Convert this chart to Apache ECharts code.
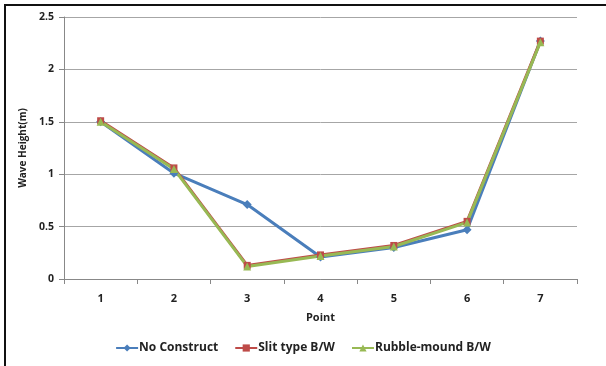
<!DOCTYPE html>
<html><head><meta charset="utf-8">
<script src="https://cdn.jsdelivr.net/npm/echarts@6/dist/echarts.min.js"></script>
<style>html,body{margin:0;padding:0;background:#fff}#c{width:606px;height:366px}</style>
</head><body><div id="c"></div>
<script>
const categories = ['1','2','3','4','5','6','7'];
const noConstruct = [1.50, 1.01, 0.71, 0.21, 0.30, 0.47, 2.27];
const slitType = [1.51, 1.06, 0.13, 0.23, 0.32, 0.55, 2.27];
const rubbleMound = [1.50, 1.05, 0.12, 0.22, 0.31, 0.54, 2.26];
const yTicks = [0, 0.5, 1, 1.5, 2, 2.5];

const font = 'Open Sans, Liberation Sans, sans-serif';
const chart = echarts.init(document.getElementById('c'));
chart.setOption({
  animation: false,
  backgroundColor: '#fff',
  graphic: [
    {type:'line', shape:{x1:4,y1:5,x2:606,y2:5}, style:{stroke:'#111', lineWidth:2}, silent:true},
    {type:'line', shape:{x1:5,y1:4,x2:5,y2:366}, style:{stroke:'#111', lineWidth:2}, silent:true}
  ],
  grid: {left: 64, right: 29, top: 17, bottom: 87, containLabel: false},
  legend: {
    bottom: 7, left: 'center', itemGap: 16, itemWidth: 22, itemHeight: 9,
    textStyle: {fontFamily: font, fontWeight: 'bold', fontSize: 12, color: '#222', padding: [0,0,0,-4]},
    data: ['No Construct', 'Slit type B/W', 'Rubble-mound B/W']
  },
  xAxis: {
    type: 'category', data: categories, boundaryGap: true,
    name: 'Point', nameLocation: 'middle', nameGap: 33,
    nameTextStyle: {fontFamily: font, fontWeight: 'bold', fontSize: 11, color: '#222'},
    axisLine: {lineStyle: {color: '#888'}},
    axisTick: {show: true, length: 5, lineStyle: {color: '#888'}},
    axisLabel: {fontFamily: font, fontWeight: 'bold', fontSize: 11, color: '#222', margin: 14}
  },
  yAxis: {
    type: 'value', min: 0, max: 2.5, interval: 0.5,
    name: 'Wave Height(m)', nameLocation: 'middle', nameGap: 26,
    nameTextStyle: {fontFamily: font, fontWeight: 'bold', fontSize: 10, color: '#222'},
    axisLine: {show: true, lineStyle: {color: '#888'}},
    axisTick: {show: true, length: 5, lineStyle: {color: '#888'}},
    splitLine: {lineStyle: {color: '#a6a6a6'}},
    axisLabel: {fontFamily: font, fontWeight: 'bold', fontSize: 10.5, color: '#222', margin: 10,
      formatter: v => String(v)}
  },
  series: [
    {name: 'No Construct', type: 'line', data: noConstruct, symbol: 'diamond', symbolSize: 9,
     itemStyle: {color: '#4A7EBB'}, lineStyle: {width: 3, color: '#4A7EBB'}},
    {name: 'Slit type B/W', type: 'line', data: slitType, symbol: 'rect', symbolSize: 7,
     itemStyle: {color: '#BE4B48'}, lineStyle: {width: 3, color: '#BE4B48'}},
    {name: 'Rubble-mound B/W', type: 'line', data: rubbleMound, symbol: 'triangle', symbolSize: 8,
     itemStyle: {color: '#98B954'}, lineStyle: {width: 3, color: '#98B954'}}
  ]
});
</script></body></html>
